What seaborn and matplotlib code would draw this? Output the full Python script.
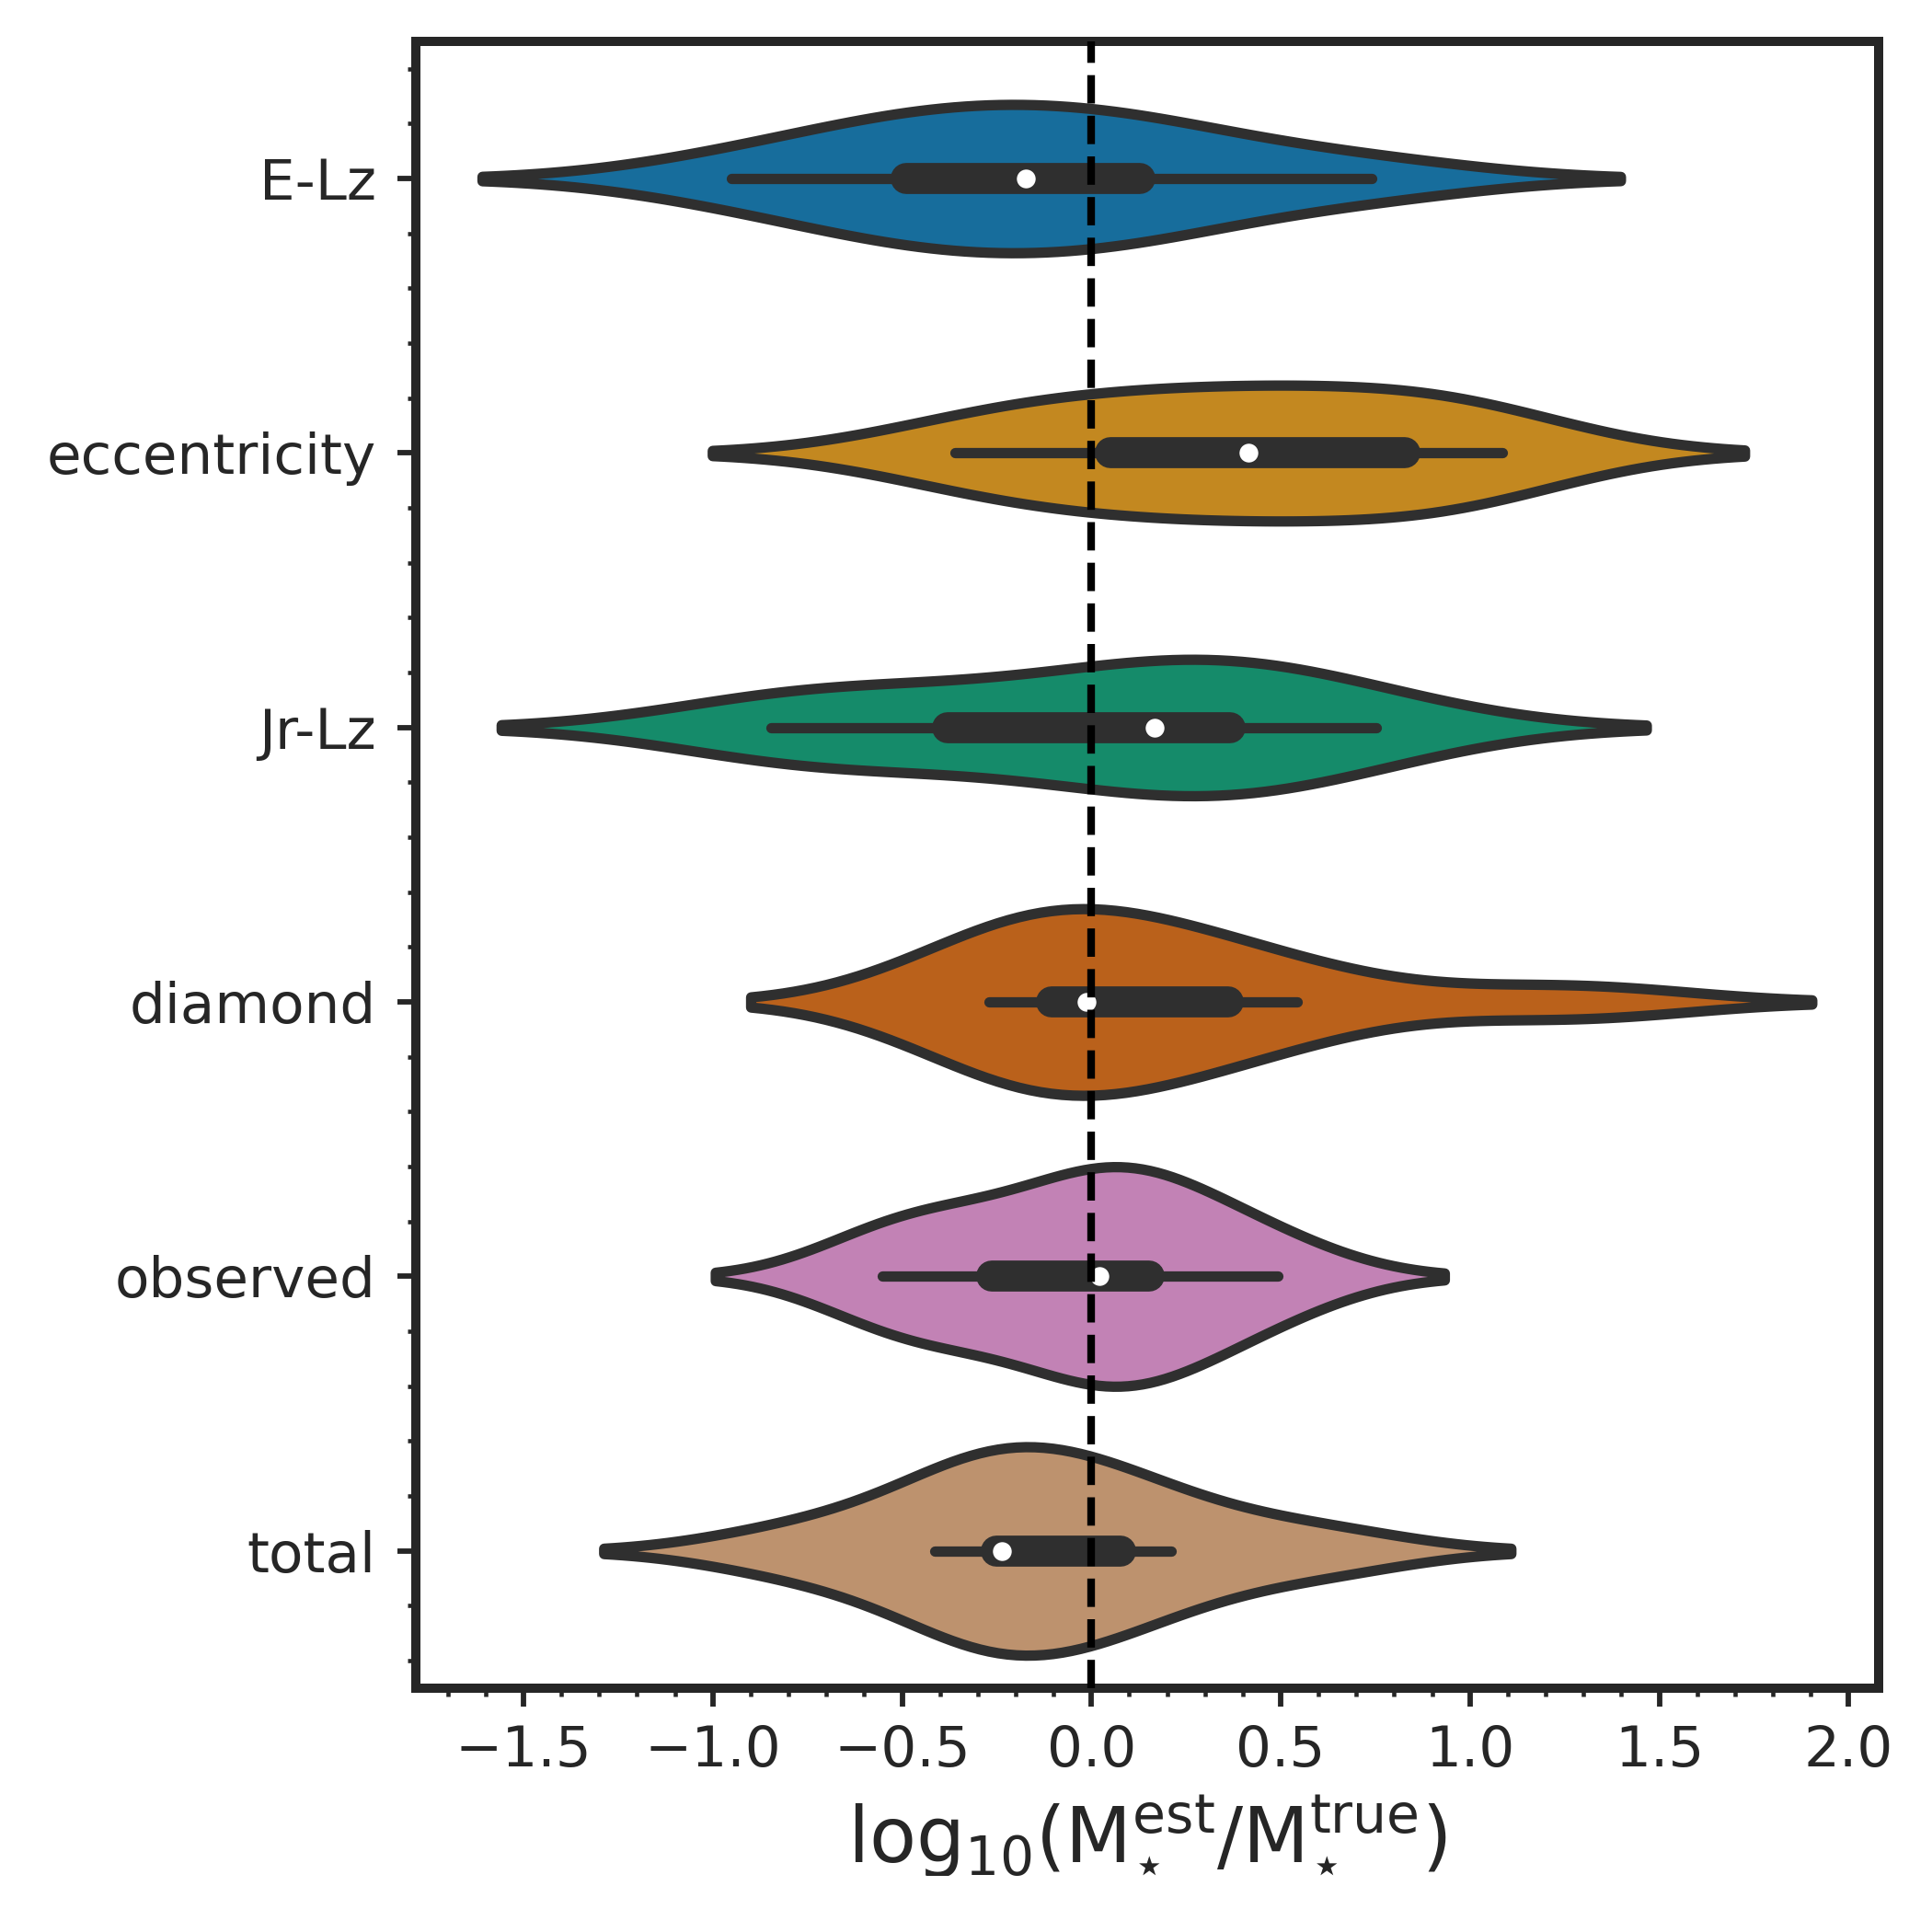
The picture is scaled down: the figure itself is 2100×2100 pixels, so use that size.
import numpy as np
import pandas as pd
import matplotlib
matplotlib.use("Agg")
import matplotlib.pyplot as plt
import seaborn as sns

sns.set_style("ticks")
plt.rcParams["font.family"] = ["DejaVu Sans"]

# categories, top to bottom
methods = ["E-Lz", "eccentricity", "Jr-Lz", "diamond", "observed", "total"]

e_lz = [-0.952, -0.60, -0.489, -0.33, -0.173, -0.02, 0.128, 0.30, 0.740]
eccentricity = [-0.361, -0.15, 0.050, 0.25, 0.414, 0.56, 0.827, 0.92, 1.085]
jr_lz = [-0.846, -0.72, -0.380, -0.08, 0.167, 0.25, 0.367, 0.52, 0.753]
diamond = [-0.271, -0.22, -0.105, -0.07, -0.012, 0.20, 0.361, 0.543, 1.274]
observed = [-0.553, -0.45, -0.262, -0.05, 0.022, 0.08, 0.153, 0.30, 0.492]
total = [-0.78, -0.413, -0.251, -0.245, -0.237, -0.03, 0.078, 0.211, 0.60]

groups = [e_lz, eccentricity, jr_lz, diamond, observed, total]
df = pd.DataFrame({
    "method": np.repeat(methods, [len(g) for g in groups]),
    "value": np.concatenate(groups),
})

LW = 2.7          # outline / whisker width
GRAY = "#2f2f2f"
TEXT = "#262626"

fig, ax = plt.subplots(figsize=(7, 7), dpi=300)
fig.subplots_adjust(left=0.2151, right=0.9722, top=0.9786, bottom=0.1262)

sns.violinplot(
    data=df, x="value", y="method", hue="method",
    order=methods, hue_order=methods,
    palette="colorblind", saturation=0.75,
    inner=None, cut=2, density_norm="area", common_norm=True,
    linewidth=LW, linecolor=GRAY, legend=False, ax=ax,
)

# old-style inner box: whisker line, thick IQR bar, white median dot
for i, m in enumerate(methods):
    v = df.loc[df["method"] == m, "value"].to_numpy()
    q1, med, q3 = np.percentile(v, [25, 50, 75])
    lim = 1.5 * (q3 - q1)
    lo = v[v >= q1 - lim].min()
    hi = v[v <= q3 + lim].max()
    ax.plot([lo, hi], [i, i], lw=LW, color=GRAY, solid_capstyle="round", zorder=2)
    ax.plot([q1, q3], [i, i], lw=LW * 3, color=GRAY, solid_capstyle="round", zorder=2)
    ax.scatter([med], [i], s=5.4 ** 2, color="white", edgecolor=GRAY,
               linewidths=0.5, zorder=3)

ax.axvline(0, color="k", ls="--", lw=2, zorder=4)
ax.set_ylim(len(methods) - 0.5, -0.5)

ax.minorticks_on()
for side in ax.spines.values():
    side.set_visible(True)
    side.set_linewidth(2.4)
    side.set_color(TEXT)
ax.tick_params(which="major", length=4.8, width=1.4, color=TEXT,
               labelsize=14.7, labelcolor=TEXT, pad=4.5)
ax.tick_params(which="minor", length=2.2, width=1.1, color=TEXT)
ax.tick_params(axis="y", which="major", pad=5.5)

ax.set_ylabel("")
ax.set_xlabel(r"$\mathrm{log}_{10}(\mathrm{M}_{\star}^{\mathrm{est}}/\mathrm{M}_{\star}^{\mathrm{true}})$",
              fontsize=20, color=TEXT)

fig.savefig("out.png", dpi=300)
